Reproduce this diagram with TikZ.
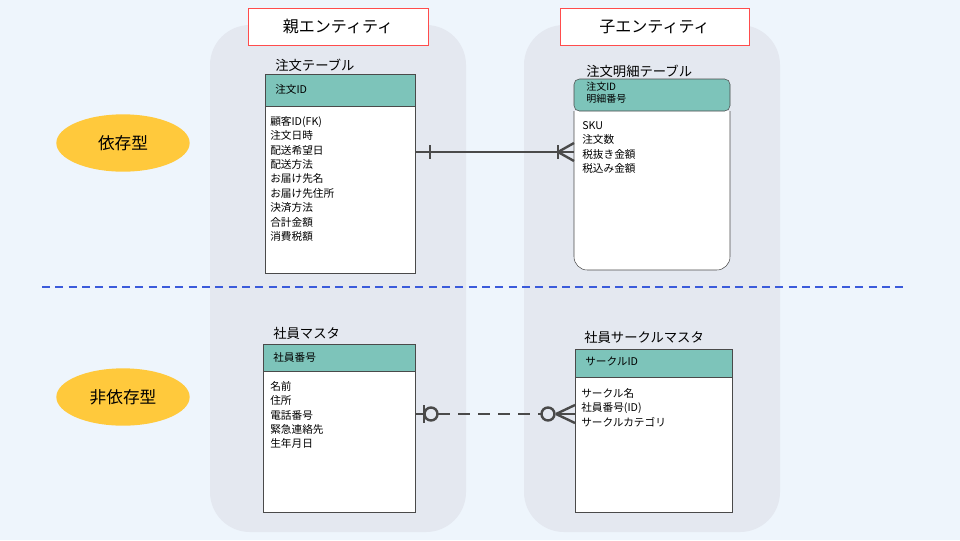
\documentclass[tikz,border=0pt]{standalone}
\usepackage{fontspec}
\setmainfont{Noto Sans CJK JP}
\usetikzlibrary{shapes.geometric}
\definecolor{bg}{HTML}{EEF5FC}
\definecolor{panel}{HTML}{E4E8F0}
\definecolor{teal}{HTML}{7DC4BA}
\definecolor{yel}{HTML}{FFC93C}
\definecolor{dashblue}{HTML}{3B5BDB}
\definecolor{ln}{HTML}{4A4A4A}
\begin{document}
\begin{tikzpicture}[x=0.75pt,y=-0.75pt,
  panel/.style={fill=panel,draw=none,rounded corners=30pt},
  hdr/.style={draw=red!70,fill=white,minimum width=135pt,minimum height=27.75pt,font=\fontsize{12}{14}\selectfont},
  tag/.style={ellipse,fill=yel,minimum width=100pt,minimum height=43pt,font=\fontsize{12.5}{14}\selectfont},
  ttl/.style={anchor=west,font=\fontsize{10}{12}\selectfont,inner sep=0},
  fld/.style={anchor=north west,align=left,font=\fontsize{8}{10.8}\selectfont,inner sep=0},
  rel/.style={draw=ln,line width=1.8pt}]
\fill[bg] (0,0) rectangle (960,540);
\useasboundingbox (0,0) rectangle (960,540);
\fill[panel,rounded corners=30pt] (210,25) rectangle (466,532);
\fill[panel,rounded corners=30pt] (524,25) rectangle (780,532);
\node[hdr] (h1) at (338,26.5) {親エンティティ};
\node[hdr,minimum width=141.75pt] (h2) at (654.5,26.5) {子エンティティ};
\draw[dashblue,line width=1.6pt,dash pattern=on 6pt off 4pt] (42,287) -- (908,287);
\node[tag] (t1) at (123,143) {依存型};
\node[tag] (t2) at (123,397) {非依存型};
% table 1
\node[ttl] (n1) at (275,65) {注文テーブル};
\draw[fill=white,draw=ln] (265,74) rectangle (415,273);
\draw[fill=teal,draw=ln] (265,74) rectangle (415,106);
\node[fld] (k1) at (275,84) {注文ID};
\node[fld] (f1) at (270,116) {顧客ID(FK)\\注文日時\\配送希望日\\配送方法\\お届け先名\\お届け先住所\\決済方法\\合計金額\\消費税額};
\coordinate (a1) at (415,152);
% table 2
\node[ttl] (n2) at (586,71) {注文明細テーブル};
\draw[fill=white,draw=ln,rounded corners=10pt] (574,111) -- (574,270) -- (730,270) -- (730,111);
\draw[fill=teal,draw=ln,rounded corners=4pt] (574,111) -- (574,79) -- (730,79) -- (730,111) -- cycle;
\node[fld,font=\fontsize{7.5}{9}\selectfont] (k2) at (586,82) {注文ID\\明細番号};
\node[fld] (f2) at (582,121) {SKU\\注文数\\税抜き金額\\税込み金額};
\coordinate (b1) at (574,152);
% table 3
\node[ttl] (n3) at (273,333) {社員マスタ};
\draw[fill=white,draw=ln] (263,344) rectangle (415,512);
\draw[fill=teal,draw=ln] (263,344) rectangle (415,371);
\node[fld] (k3) at (273,352) {社員番号};
\node[fld] (f3) at (270,381) {名前\\住所\\電話番号\\緊急連絡先\\生年月日};
\coordinate (a2) at (415,414);
% table 4
\node[ttl] (n4) at (584,337) {社員サークルマスタ};
\draw[fill=white,draw=ln] (575,349) rectangle (732,512);
\draw[fill=teal,draw=ln] (575,349) rectangle (732,377);
\node[fld] (k4) at (585,357) {サークルID};
\node[fld] (f4) at (581,388) {サークル名\\社員番号(ID)\\サークルカテゴリ};
\coordinate (b2) at (575,414);
% relation 1
\draw[rel] (a1) -- (b1);
\draw[rel] (430,145) -- (430,159);
\draw[rel] (558,145) -- (558,159);
\draw[rel] (558,152) -- (574,143);
\draw[rel] (558,152) -- (574,161);
% relation 2
\draw[rel,dash pattern=on 9pt off 6pt] (438,414) -- (541,414);
\draw[rel] (a2) -- (424,414);
\draw[rel] (424,405) -- (424,423);
\draw[rel] (431,414) circle (6.5);
\draw[rel] (548,414) circle (6.5);
\draw[rel] (556,414) -- (b2);
\draw[rel] (556,414) -- (575,405);
\draw[rel] (556,414) -- (575,423);
\end{tikzpicture}
\end{document}
